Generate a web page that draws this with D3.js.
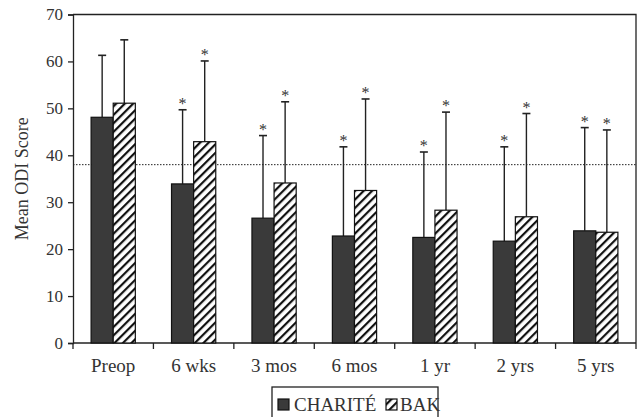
<!DOCTYPE html>
<html>
<head>
<meta charset="utf-8">
<script src="https://cdn.jsdelivr.net/npm/d3@7"></script>
<style>
  body { margin: 0; background: #fff; }
  svg, svg text { font-family: 'Liberation Serif', serif; }
</style>
</head>
<body>
<svg width="643" height="417"></svg>
<script>
const categories = ['Preop', '6 wks', '3 mos', '6 mos', '1 yr', '2 yrs', '5 yrs'];
const series = ['CHARITÉ', 'BAK'];
const chariteMean = [48.1, 33.9, 26.6, 22.8, 22.5, 21.7, 23.9];
const chariteSD = [13.2, 15.8, 17.6, 19.0, 18.2, 20.1, 22.0];
const bakMean = [51.1, 42.9, 34.1, 32.5, 28.3, 26.9, 23.6];
const bakSD = [13.5, 17.2, 17.3, 19.5, 20.9, 22.0, 21.8];
const significant = [false, true, true, true, true, true, true];
const yTicks = [0, 10, 20, 30, 40, 50, 60, 70];
const threshold = 38;

const rows = categories.map((c, i) => ({
  cat: c,
  values: [
    {key: series[0], mean: chariteMean[i], sd: chariteSD[i], sig: significant[i]},
    {key: series[1], mean: bakMean[i], sd: bakSD[i], sig: significant[i]}
  ]
}));

const svg = d3.select('svg');
const plotLeft = 73, plotRight = 636, plotTop = 14.5, plotBottom = 343;
const ink = '#222';
const textInk = '#333';

const defs = svg.append('defs');
defs.append('pattern')
    .attr('id', 'hatch')
    .attr('patternUnits', 'userSpaceOnUse')
    .attr('width', 6).attr('height', 6)
    .attr('patternTransform', 'rotate(45)')
  .call((p) => {
    p.append('rect').attr('width', 6).attr('height', 6).attr('fill', '#fff');
    p.append('line').attr('x1', 1).attr('y1', 0).attr('x2', 1).attr('y2', 6)
        .attr('stroke', '#111').attr('stroke-width', 2.4);
  });

const fills = {'CHARITÉ': '#3a3a3a', 'BAK': 'url(#hatch)'};

const x = d3.scaleBand().domain(categories).range([plotLeft, plotRight])
    .paddingInner(0.45).paddingOuter(0.225);
const xSub = d3.scaleBand().domain(series).range([0, x.bandwidth()]);
const y = d3.scaleLinear().domain([0, 70]).range([plotBottom, plotTop]);

// frame (top and right)
svg.append('path')
    .attr('d', `M${plotLeft},${plotTop}H${plotRight}V${plotBottom}`)
    .attr('fill', 'none').attr('stroke', ink).attr('stroke-width', 1.3);

// y axis
const yAxis = svg.append('g')
    .attr('transform', `translate(${plotLeft},0)`)
    .call(d3.axisLeft(y).tickValues(yTicks).tickSize(5).tickPadding(5));
yAxis.attr('font-family', 'Liberation Serif');
yAxis.select('.domain').attr('stroke', ink).attr('stroke-width', 1.3);
yAxis.selectAll('line').attr('stroke', ink).attr('stroke-width', 1.3);
yAxis.selectAll('text').attr('font-size', 17).attr('fill', textInk);

// x axis: baseline and ticks at band boundaries
svg.append('line')
    .attr('x1', plotLeft).attr('x2', plotRight).attr('y1', plotBottom).attr('y2', plotBottom)
    .attr('stroke', ink).attr('stroke-width', 1.3);
const bounds = categories.map((c) => x(c) - x.step() * x.paddingInner() / 2);
bounds.push(plotRight);
svg.selectAll('.xtick').data(bounds).enter().append('line')
    .attr('x1', (d) => d).attr('x2', (d) => d)
    .attr('y1', plotBottom).attr('y2', plotBottom + 6)
    .attr('stroke', ink).attr('stroke-width', 1.3);
svg.selectAll('.xlabel').data(categories).enter().append('text')
    .attr('x', (d) => x(d) + x.bandwidth() / 2)
    .attr('y', 372)
    .attr('text-anchor', 'middle')
    .attr('font-size', 19).attr('fill', textInk)
    .text((d) => d);

// threshold dotted line
svg.append('line')
    .attr('x1', plotLeft).attr('x2', plotRight)
    .attr('y1', y(threshold)).attr('y2', y(threshold))
    .attr('stroke', '#222').attr('stroke-width', 1)
    .attr('stroke-dasharray', '1.5,1.5');

const groups = svg.selectAll('g.cat').data(rows).enter().append('g')
    .attr('class', 'cat')
    .attr('transform', (d) => `translate(${x(d.cat)},0)`);

const bars = groups.selectAll('g.bar').data((d) => d.values).enter()
    .append('g').attr('class', 'bar');

// error bars (upper only)
bars.append('line')
    .attr('x1', (d) => xSub(d.key) + xSub.bandwidth() / 2)
    .attr('x2', (d) => xSub(d.key) + xSub.bandwidth() / 2)
    .attr('y1', (d) => y(d.mean))
    .attr('y2', (d) => y(d.mean + d.sd))
    .attr('stroke', ink).attr('stroke-width', 1.4);
bars.append('line')
    .attr('x1', (d) => xSub(d.key) + xSub.bandwidth() / 2 - 4)
    .attr('x2', (d) => xSub(d.key) + xSub.bandwidth() / 2 + 4)
    .attr('y1', (d) => y(d.mean + d.sd))
    .attr('y2', (d) => y(d.mean + d.sd))
    .attr('stroke', ink).attr('stroke-width', 1.6);

bars.append('rect')
    .attr('x', (d) => xSub(d.key))
    .attr('width', xSub.bandwidth())
    .attr('y', (d) => y(d.mean))
    .attr('height', (d) => y(0) - y(d.mean))
    .attr('fill', (d) => fills[d.key])
    .attr('stroke', '#111').attr('stroke-width', 1.2);

bars.filter((d) => d.sig).append('text')
    .attr('x', (d) => xSub(d.key) + xSub.bandwidth() / 2)
    .attr('y', (d) => y(d.mean + d.sd) - 1)
    .attr('text-anchor', 'middle')
    .attr('font-size', 16).attr('fill', '#333')
    .text('*');

// y axis title
svg.append('text')
    .attr('transform', `translate(28,${(plotTop + plotBottom) / 2}) rotate(-90)`)
    .attr('text-anchor', 'middle')
    .attr('font-size', 18).attr('fill', textInk)
    .text('Mean ODI Score');

// legend
const legend = svg.append('g');
legend.append('rect')
    .attr('x', 272).attr('y', 387).attr('width', 166).attr('height', 34)
    .attr('fill', '#fff').attr('stroke', ink).attr('stroke-width', 1.3);
const legendPos = [{key: series[0], sx: 278, tx: 294}, {key: series[1], sx: 386, tx: 400}];
legend.selectAll('.lsw').data(legendPos).enter().append('rect')
    .attr('x', (d) => d.sx).attr('y', 399).attr('width', 11).attr('height', 11)
    .attr('fill', (d) => fills[d.key]).attr('stroke', '#111').attr('stroke-width', 1.2);
legend.selectAll('.ltx').data(legendPos).enter().append('text')
    .attr('x', (d) => d.tx).attr('y', 411)
    .attr('font-size', 19).attr('fill', textInk)
    .text((d) => d.key);
</script>
</body>
</html>
